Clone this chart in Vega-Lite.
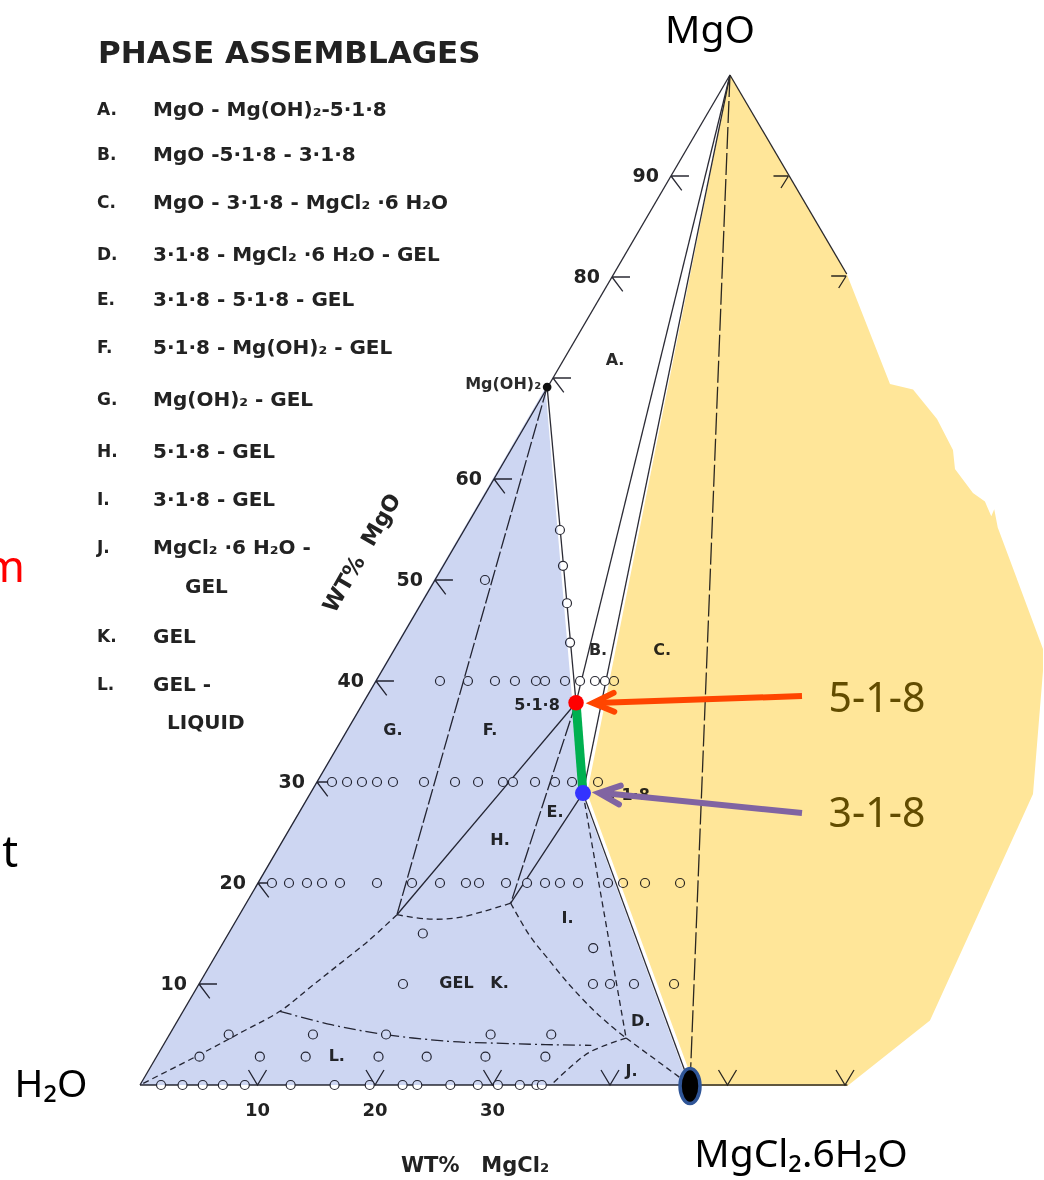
{
  "$schema": "https://vega.github.io/schema/vega-lite/v6.json",
  "width": 1044,
  "height": 1180,
  "padding": 0,
  "autosize": {"type": "none"},
  "background": "white",
  "config": {"view": {"stroke": null}},
  "datasets": {
    "solid": [
      {"line": "left edge", "i": 0, "h": 0, "mgo": 0},
      {"line": "left edge", "i": 1, "h": 50.21, "mgo": 100},
      {"line": "right edge", "i": 0, "h": 50.21, "mgo": 100},
      {"line": "right edge", "i": 1, "h": 60.15, "mgo": 80.3},
      {"line": "base", "i": 0, "h": 0, "mgo": 0},
      {"line": "base", "i": 1, "h": 60.2, "mgo": 0},
      {"line": "MgO-518", "i": 0, "h": 50.21, "mgo": 100},
      {"line": "MgO-518", "i": 1, "h": 37.11, "mgo": 37.85},
      {"line": "MgO-318", "i": 0, "h": 50.21, "mgo": 100},
      {"line": "MgO-318", "i": 1, "h": 37.7, "mgo": 28.9},
      {"line": "brucite-518", "i": 0, "h": 34.65, "mgo": 69.1},
      {"line": "brucite-518", "i": 1, "h": 37.11, "mgo": 37.85},
      {"line": "318-hexahydrate", "i": 0, "h": 37.7, "mgo": 28.9},
      {"line": "318-hexahydrate", "i": 1, "h": 46.81, "mgo": 0},
      {"line": "518-J1", "i": 0, "h": 37.11, "mgo": 37.85},
      {"line": "518-J1", "i": 1, "h": 21.87, "mgo": 16.86},
      {"line": "318-J2", "i": 0, "h": 37.7, "mgo": 28.9},
      {"line": "318-J2", "i": 1, "h": 31.55, "mgo": 18.0}
    ],
    "broken": [
      {"line": "brucite-J1", "i": 0, "h": 34.65, "mgo": 69.1},
      {"line": "brucite-J1", "i": 1, "h": 21.87, "mgo": 16.86},
      {"line": "518-J2", "i": 0, "h": 37.11, "mgo": 37.85},
      {"line": "518-J2", "i": 1, "h": 31.55, "mgo": 18.0}
    ],
    "join": [
      {"line": "MgO-hexahydrate", "i": 0, "h": 50.21, "mgo": 100},
      {"line": "MgO-hexahydrate", "i": 1, "h": 46.81, "mgo": 0}
    ],
    "dashed": [
      {"line": "J1-J2", "i": 0, "h": 21.87, "mgo": 16.86},
      {"line": "J1-J2", "i": 1, "h": 24.38, "mgo": 16.44},
      {"line": "J1-J2", "i": 2, "h": 26.88, "mgo": 16.53},
      {"line": "J1-J2", "i": 3, "h": 29.36, "mgo": 17.23},
      {"line": "J1-J2", "i": 4, "h": 31.55, "mgo": 18.0},
      {"line": "J1-H2O", "i": 0, "h": 21.87, "mgo": 16.86},
      {"line": "J1-H2O", "i": 1, "h": 19.4, "mgo": 14.23},
      {"line": "J1-H2O", "i": 2, "h": 16.9, "mgo": 11.91},
      {"line": "J1-H2O", "i": 3, "h": 14.41, "mgo": 9.6},
      {"line": "J1-H2O", "i": 4, "h": 11.91, "mgo": 7.3},
      {"line": "J1-H2O", "i": 5, "h": 8.79, "mgo": 5.32},
      {"line": "J1-H2O", "i": 6, "h": 5.06, "mgo": 3.0},
      {"line": "J1-H2O", "i": 7, "h": 0, "mgo": 0},
      {"line": "J2-D", "i": 0, "h": 31.55, "mgo": 18.0},
      {"line": "J2-D", "i": 1, "h": 33.11, "mgo": 14.88},
      {"line": "J2-D", "i": 2, "h": 34.67, "mgo": 12.57},
      {"line": "J2-D", "i": 3, "h": 36.54, "mgo": 9.93},
      {"line": "J2-D", "i": 4, "h": 38.41, "mgo": 7.62},
      {"line": "J2-D", "i": 5, "h": 39.97, "mgo": 5.97},
      {"line": "J2-D", "i": 6, "h": 41.37, "mgo": 4.65},
      {"line": "318-D", "i": 0, "h": 37.7, "mgo": 28.9},
      {"line": "318-D", "i": 1, "h": 41.37, "mgo": 4.65},
      {"line": "D-hexahydrate", "i": 0, "h": 41.37, "mgo": 4.65},
      {"line": "D-hexahydrate", "i": 1, "h": 46.81, "mgo": 0},
      {"line": "D-base", "i": 0, "h": 41.37, "mgo": 4.65},
      {"line": "D-base", "i": 1, "h": 38.41, "mgo": 3.34},
      {"line": "D-base", "i": 2, "h": 36.54, "mgo": 1.68},
      {"line": "D-base", "i": 3, "h": 34.98, "mgo": 0}
    ],
    "dashdot": [
      {"line": "gel-liquid", "i": 0, "h": 11.91, "mgo": 7.3},
      {"line": "gel-liquid", "i": 1, "h": 16.28, "mgo": 5.97},
      {"line": "gel-liquid", "i": 2, "h": 20.95, "mgo": 4.98},
      {"line": "gel-liquid", "i": 3, "h": 26.26, "mgo": 4.32},
      {"line": "gel-liquid", "i": 4, "h": 29.84, "mgo": 4.16},
      {"line": "gel-liquid", "i": 5, "h": 34.5, "mgo": 4.0},
      {"line": "gel-liquid", "i": 6, "h": 38.41, "mgo": 3.93}
    ],
    "samples": [
      {"h": 25.53, "mgo": 40}, {"h": 27.91, "mgo": 40}, {"h": 30.21, "mgo": 40}, {"h": 31.91, "mgo": 40},
      {"h": 33.7, "mgo": 40}, {"h": 34.47, "mgo": 40}, {"h": 36.17, "mgo": 40}, {"h": 37.45, "mgo": 40},
      {"h": 38.72, "mgo": 40}, {"h": 39.57, "mgo": 40}, {"h": 40.34, "mgo": 40},
      {"h": 16.34, "mgo": 30}, {"h": 17.62, "mgo": 30}, {"h": 18.89, "mgo": 30}, {"h": 20.17, "mgo": 30},
      {"h": 21.53, "mgo": 30}, {"h": 24.17, "mgo": 30}, {"h": 26.81, "mgo": 30}, {"h": 28.77, "mgo": 30},
      {"h": 30.89, "mgo": 30}, {"h": 31.74, "mgo": 30}, {"h": 33.62, "mgo": 30}, {"h": 35.32, "mgo": 30},
      {"h": 36.77, "mgo": 30}, {"h": 38.98, "mgo": 30},
      {"h": 11.23, "mgo": 20}, {"h": 12.68, "mgo": 20}, {"h": 14.21, "mgo": 20}, {"h": 15.49, "mgo": 20},
      {"h": 17.02, "mgo": 20}, {"h": 20.17, "mgo": 20}, {"h": 23.15, "mgo": 20}, {"h": 25.53, "mgo": 20},
      {"h": 27.74, "mgo": 20}, {"h": 28.85, "mgo": 20}, {"h": 31.15, "mgo": 20}, {"h": 32.94, "mgo": 20},
      {"h": 34.47, "mgo": 20}, {"h": 35.74, "mgo": 20}, {"h": 37.28, "mgo": 20}, {"h": 39.83, "mgo": 20},
      {"h": 41.11, "mgo": 20}, {"h": 42.98, "mgo": 20}, {"h": 45.96, "mgo": 20},
      {"h": 22.38, "mgo": 10}, {"h": 38.55, "mgo": 10}, {"h": 40.0, "mgo": 10}, {"h": 42.04, "mgo": 10},
      {"h": 45.45, "mgo": 10},
      {"h": 24.07, "mgo": 15.0}, {"h": 38.57, "mgo": 13.56}, {"h": 29.36, "mgo": 50},
      {"h": 35.74, "mgo": 54.95}, {"h": 36.0, "mgo": 51.4}, {"h": 36.34, "mgo": 47.7}, {"h": 36.6, "mgo": 43.8},
      {"h": 7.55, "mgo": 5}, {"h": 14.72, "mgo": 5}, {"h": 20.94, "mgo": 5}, {"h": 29.84, "mgo": 5}, {"h": 35.0, "mgo": 5},
      {"h": 5.06, "mgo": 2.8}, {"h": 10.2, "mgo": 2.8}, {"h": 14.1, "mgo": 2.8}, {"h": 20.3, "mgo": 2.8},
      {"h": 24.4, "mgo": 2.8}, {"h": 29.4, "mgo": 2.8}, {"h": 34.5, "mgo": 2.8},
      {"h": 1.79, "mgo": 0}, {"h": 3.62, "mgo": 0}, {"h": 5.34, "mgo": 0}, {"h": 7.05, "mgo": 0},
      {"h": 8.92, "mgo": 0}, {"h": 12.82, "mgo": 0}, {"h": 16.56, "mgo": 0}, {"h": 19.55, "mgo": 0},
      {"h": 22.35, "mgo": 0}, {"h": 23.6, "mgo": 0}, {"h": 26.41, "mgo": 0}, {"h": 28.75, "mgo": 0},
      {"h": 30.46, "mgo": 0}, {"h": 32.33, "mgo": 0}, {"h": 33.74, "mgo": 0}, {"h": 34.2, "mgo": 0}
    ],
    "ticksLeft": [
      {"h": 5.02, "mgo": 10}, {"h": 10.04, "mgo": 20}, {"h": 15.06, "mgo": 30}, {"h": 20.08, "mgo": 40},
      {"h": 25.1, "mgo": 50}, {"h": 30.13, "mgo": 60}, {"h": 35.15, "mgo": 70}, {"h": 40.17, "mgo": 80},
      {"h": 45.19, "mgo": 90}
    ],
    "ticksBottom": [
      {"h": 10, "mgo": 0}, {"h": 20, "mgo": 0}, {"h": 30, "mgo": 0}, {"h": 40, "mgo": 0},
      {"h": 50, "mgo": 0}, {"h": 60, "mgo": 0}
    ],
    "ticksRight": [
      {"h": 55.19, "mgo": 90}, {"h": 60.1, "mgo": 80.1}
    ],
    "scaleLeft": [
      {"label": "90", "h": 45.19, "mgo": 90}, {"label": "80", "h": 40.17, "mgo": 80},
      {"label": "60", "h": 30.13, "mgo": 60}, {"label": "50", "h": 25.1, "mgo": 50},
      {"label": "40", "h": 20.08, "mgo": 40}, {"label": "30", "h": 15.06, "mgo": 30},
      {"label": "20", "h": 10.04, "mgo": 20}, {"label": "10", "h": 5.02, "mgo": 10}
    ],
    "scaleBottom": [
      {"label": "10", "h": 10, "mgo": -2.57}, {"label": "20", "h": 20, "mgo": -2.57},
      {"label": "30", "h": 30, "mgo": -2.57}
    ],
    "regions": [
      {"label": "A.", "h": 40.43, "mgo": 71.78},
      {"label": "B.", "h": 38.98, "mgo": 43.1},
      {"label": "C.", "h": 44.43, "mgo": 43.1},
      {"label": "F.", "h": 29.79, "mgo": 35.15},
      {"label": "G.", "h": 21.53, "mgo": 35.15},
      {"label": "E.", "h": 35.32, "mgo": 27.03},
      {"label": "H.", "h": 30.64, "mgo": 24.26},
      {"label": "I.", "h": 36.38, "mgo": 16.53},
      {"label": "GEL\u00a0\u00a0\u00a0K.", "h": 28.43, "mgo": 10.1},
      {"label": "D.", "h": 42.62, "mgo": 6.3},
      {"label": "J.", "h": 41.84, "mgo": 1.36},
      {"label": "L.", "h": 16.75, "mgo": 2.87},
      {"label": "5·1·8", "h": 33.79, "mgo": 37.62},
      {"label": "3·1·8", "h": 41.45, "mgo": 28.7}
    ],
    "brucite": [
      {"label": "Mg(OH)₂", "h": 34.65, "mgo": 69.1}
    ],
    "legendKeys": [
      {"label": "A.", "h": -3.66, "mgo": 96.53}, {"label": "B.", "h": -3.66, "mgo": 92.08},
      {"label": "C.", "h": -3.66, "mgo": 87.33}, {"label": "D.", "h": -3.66, "mgo": 82.18},
      {"label": "E.", "h": -3.66, "mgo": 77.72}, {"label": "F.", "h": -3.66, "mgo": 72.97},
      {"label": "G.", "h": -3.66, "mgo": 67.82}, {"label": "H.", "h": -3.66, "mgo": 62.67},
      {"label": "I.", "h": -3.66, "mgo": 57.92}, {"label": "J.", "h": -3.66, "mgo": 53.17},
      {"label": "K.", "h": -3.66, "mgo": 44.36}, {"label": "L.", "h": -3.66, "mgo": 39.6}
    ],
    "legendText": [
      {"label": "MgO - Mg(OH)₂-5·1·8", "h": 1.11, "mgo": 96.53},
      {"label": "MgO -5·1·8 - 3·1·8", "h": 1.11, "mgo": 92.08},
      {"label": "MgO - 3·1·8 - MgCl₂ ·6 H₂O", "h": 1.11, "mgo": 87.33},
      {"label": "3·1·8 - MgCl₂ ·6 H₂O - GEL", "h": 1.11, "mgo": 82.18},
      {"label": "3·1·8 - 5·1·8 - GEL", "h": 1.11, "mgo": 77.72},
      {"label": "5·1·8 - Mg(OH)₂ - GEL", "h": 1.11, "mgo": 72.97},
      {"label": "Mg(OH)₂ - GEL", "h": 1.11, "mgo": 67.82},
      {"label": "5·1·8 - GEL", "h": 1.11, "mgo": 62.67},
      {"label": "3·1·8 - GEL", "h": 1.11, "mgo": 57.92},
      {"label": "MgCl₂ ·6 H₂O -", "h": 1.11, "mgo": 53.17},
      {"label": "GEL", "h": 3.83, "mgo": 49.31},
      {"label": "GEL", "h": 1.11, "mgo": 44.36},
      {"label": "GEL -", "h": 1.11, "mgo": 39.6},
      {"label": "LIQUID", "h": 2.3, "mgo": 35.84}
    ],
    "heading": [
      {"label": "PHASE ASSEMBLAGES", "h": -3.57, "mgo": 102.08}
    ],
    "titleBottom": [
      {"label": "WT%\u00a0\u00a0\u00a0MgCl₂", "h": 28.51, "mgo": -8.0}
    ],
    "titleLeft": [
      {"label": "WT%\u00a0\u00a0MgO", "h": 18.89, "mgo": 52.67}
    ],
    "blueField": [
      {"i": 0, "h": 0, "mgo": 0},
      {"i": 1, "h": 34.5, "mgo": 69.0},
      {"i": 2, "h": 36.8, "mgo": 37.85},
      {"i": 3, "h": 37.6, "mgo": 28.9},
      {"i": 4, "h": 46.7, "mgo": 0}
    ],
    "yellowField": [
      {"i": 0, "h": 50.21, "mgo": 100},
      {"i": 1, "h": 60.15, "mgo": 80.3},
      {"i": 2, "h": 63.83, "mgo": 69.41},
      {"i": 3, "h": 65.79, "mgo": 68.86},
      {"i": 4, "h": 67.83, "mgo": 65.94},
      {"i": 5, "h": 69.19, "mgo": 62.87},
      {"i": 6, "h": 69.36, "mgo": 60.99},
      {"i": 7, "h": 70.89, "mgo": 58.61},
      {"i": 8, "h": 71.91, "mgo": 57.77},
      {"i": 9, "h": 72.45, "mgo": 56.3},
      {"i": 10, "h": 72.7, "mgo": 57.0},
      {"i": 11, "h": 73.0, "mgo": 55.2},
      {"i": 12, "h": 76.85, "mgo": 43.17},
      {"i": 13, "h": 76.85, "mgo": 40.99},
      {"i": 14, "h": 76.0, "mgo": 28.81},
      {"i": 15, "h": 67.23, "mgo": 6.38},
      {"i": 16, "h": 60.2, "mgo": -0.1},
      {"i": 17, "h": 47.2, "mgo": -0.1},
      {"i": 18, "h": 38.05, "mgo": 28.9}
    ],
    "tie": [
      {"i": 0, "h": 37.11, "mgo": 37.85},
      {"i": 1, "h": 37.7, "mgo": 28.9}
    ],
    "phase518": [{"h": 37.11, "mgo": 37.85}],
    "phase318": [{"h": 37.7, "mgo": 28.9}],
    "hexahydrate": [{"h": 46.81, "mgo": -0.1}],
    "shaft518": [
      {"i": 0, "h": 38.81, "mgo": 37.82},
      {"i": 1, "h": 56.34, "mgo": 38.51}
    ],
    "shaft318": [
      {"i": 0, "h": 39.4, "mgo": 28.91},
      {"i": 1, "h": 56.34, "mgo": 26.93}
    ],
    "head518": [{"h": 38.55, "mgo": 37.82}],
    "head318": [{"h": 39.06, "mgo": 28.91}],
    "callouts": [
      {"label": "5-1-8", "h": 62.72, "mgo": 38.12},
      {"label": "3-1-8", "h": 62.72, "mgo": 26.73}
    ],
    "corners": [
      {"label": "MgO", "h": 48.51, "mgo": 104.4},
      {"label": "H₂O", "h": -7.57, "mgo": 0},
      {"label": "MgCl₂.6H₂O", "h": 56.26, "mgo": -6.93}
    ],
    "fragmentRed": [{"label": "m", "h": -9.79, "mgo": 49.8}],
    "fragmentBlack": [{"label": "t", "h": -10.38, "mgo": 21.58}]
  },
  "encoding": {
    "x": {"field": "h", "type": "quantitative", "axis": null,
          "scale": {"domain": [-11.915, 76.936], "nice": false, "zero": false}},
    "y": {"field": "mgo", "type": "quantitative", "axis": null,
          "scale": {"domain": [-9.406, 107.426], "nice": false, "zero": false}}
  },
  "layer": [
    {
      "data": {"name": "solid"},
      "mark": {"type": "line", "stroke": "#2b2b35", "strokeWidth": 1.3},
      "encoding": {"detail": {"field": "line"}, "order": {"field": "i"}}
    },
    {
      "data": {"name": "broken"},
      "mark": {"type": "line", "stroke": "#2b2b35", "strokeWidth": 1.3, "strokeDash": [16, 3]},
      "encoding": {"detail": {"field": "line"}, "order": {"field": "i"}}
    },
    {
      "data": {"name": "join"},
      "mark": {"type": "line", "stroke": "#2b2b35", "strokeWidth": 1.3, "strokeDash": [22, 4]},
      "encoding": {"detail": {"field": "line"}, "order": {"field": "i"}}
    },
    {
      "data": {"name": "dashed"},
      "mark": {"type": "line", "interpolate": "cardinal", "stroke": "#2b2b35", "strokeWidth": 1.3, "strokeDash": [6, 4]},
      "encoding": {"detail": {"field": "line"}, "order": {"field": "i"}}
    },
    {
      "data": {"name": "dashdot"},
      "mark": {"type": "line", "interpolate": "cardinal", "stroke": "#2b2b35", "strokeWidth": 1.3, "strokeDash": [12, 4, 2, 4]},
      "encoding": {"detail": {"field": "line"}, "order": {"field": "i"}}
    },
    {
      "data": {"name": "ticksLeft"},
      "mark": {"type": "point", "shape": "M0,0L1,0M0,0L0.6,0.8", "size": 1296, "filled": false,
               "stroke": "#2b2b35", "strokeWidth": 1.3, "opacity": 1}
    },
    {
      "data": {"name": "ticksBottom"},
      "mark": {"type": "point", "shape": "M-0.6,-1L0,0L0.6,-1", "size": 900, "filled": false,
               "stroke": "#2b2b35", "strokeWidth": 1.3, "opacity": 1}
    },
    {
      "data": {"name": "ticksRight"},
      "mark": {"type": "point", "shape": "M0,0L-1,0M0,0L-0.5,0.8", "size": 900, "filled": false,
               "stroke": "#2b2b35", "strokeWidth": 1.3, "opacity": 1}
    },
    {
      "data": {"name": "samples"},
      "mark": {"type": "point", "shape": "circle", "size": 81, "filled": true, "fill": "white",
               "stroke": "#2b2b35", "strokeWidth": 1.2, "opacity": 1}
    },
    {
      "data": {"name": "brucite"},
      "mark": {"type": "point", "shape": "circle", "size": 45, "filled": true, "fill": "#111111",
               "stroke": "#111111", "opacity": 1}
    },
    {
      "data": {"name": "brucite"},
      "mark": {"type": "text", "align": "right", "baseline": "middle", "dx": -6, "dy": -3,
               "font": "DejaVu Sans", "fontSize": 16, "fontWeight": "bold", "color": "#2b2b2b"},
      "encoding": {"text": {"field": "label"}}
    },
    {
      "data": {"name": "scaleLeft"},
      "mark": {"type": "text", "align": "right", "baseline": "middle", "dx": -12,
               "font": "DejaVu Sans", "fontSize": 19, "fontWeight": "bold", "color": "#222222"},
      "encoding": {"text": {"field": "label"}}
    },
    {
      "data": {"name": "scaleBottom"},
      "mark": {"type": "text", "align": "center", "baseline": "middle",
               "font": "DejaVu Sans", "fontSize": 18, "fontWeight": "bold", "color": "#222222"},
      "encoding": {"text": {"field": "label"}}
    },
    {
      "data": {"name": "regions"},
      "mark": {"type": "text", "align": "center", "baseline": "middle",
               "font": "DejaVu Sans", "fontSize": 16, "fontWeight": "bold", "color": "#2a2a2a"},
      "encoding": {"text": {"field": "label"}}
    },
    {
      "data": {"name": "legendKeys"},
      "mark": {"type": "text", "align": "left", "baseline": "middle",
               "font": "DejaVu Sans", "fontSize": 17, "fontWeight": "bold", "color": "#222222"},
      "encoding": {"text": {"field": "label"}}
    },
    {
      "data": {"name": "legendText"},
      "mark": {"type": "text", "align": "left", "baseline": "middle",
               "font": "DejaVu Sans", "fontSize": 20, "fontWeight": "bold", "color": "#222222"},
      "encoding": {"text": {"field": "label"}}
    },
    {
      "data": {"name": "heading"},
      "mark": {"type": "text", "align": "left", "baseline": "middle",
               "font": "DejaVu Sans", "fontSize": 31, "fontWeight": "bold", "color": "#222222"},
      "encoding": {"text": {"field": "label"}}
    },
    {
      "data": {"name": "titleBottom"},
      "mark": {"type": "text", "align": "center", "baseline": "middle",
               "font": "DejaVu Sans", "fontSize": 21, "fontWeight": "bold", "color": "#222222"},
      "encoding": {"text": {"field": "label"}}
    },
    {
      "data": {"name": "titleLeft"},
      "mark": {"type": "text", "align": "center", "baseline": "middle", "angle": 300,
               "font": "DejaVu Sans", "fontSize": 22, "fontWeight": "bold", "color": "#222222"},
      "encoding": {"text": {"field": "label"}}
    },
    {
      "data": {"name": "blueField"},
      "mark": {"type": "line", "interpolate": "linear-closed", "fill": "#CDD6F2",
               "stroke": "#CDD6F2", "strokeWidth": 0, "blend": "multiply"},
      "encoding": {"order": {"field": "i"}}
    },
    {
      "data": {"name": "yellowField"},
      "mark": {"type": "line", "interpolate": "linear-closed", "fill": "#FFE699",
               "stroke": "#FFE699", "strokeWidth": 0, "blend": "multiply"},
      "encoding": {"order": {"field": "i"}}
    },
    {
      "data": {"name": "tie"},
      "mark": {"type": "line", "stroke": "#00B050", "strokeWidth": 9},
      "encoding": {"order": {"field": "i"}}
    },
    {
      "data": {"name": "phase518"},
      "mark": {"type": "point", "shape": "circle", "size": 240, "filled": true, "fill": "#FF0000",
               "strokeWidth": 0, "opacity": 1}
    },
    {
      "data": {"name": "phase318"},
      "mark": {"type": "point", "shape": "circle", "size": 256, "filled": true, "fill": "#3333FF",
               "strokeWidth": 0, "opacity": 1}
    },
    {
      "data": {"name": "hexahydrate"},
      "mark": {"type": "point", "shape": "M0,-1A0.57,1 0 1,1 0,1A0.57,1 0 1,1 0,-1Z", "size": 1225,
               "filled": true, "fill": "#000000", "stroke": "#2F5597", "strokeWidth": 3.5, "opacity": 1}
    },
    {
      "data": {"name": "shaft518"},
      "mark": {"type": "line", "stroke": "#FF4500", "strokeWidth": 6},
      "encoding": {"order": {"field": "i"}}
    },
    {
      "data": {"name": "head518"},
      "mark": {"type": "point", "shape": "M1,-0.45L0,0L1,0.45", "size": 1764, "filled": false,
               "stroke": "#FF4500", "strokeWidth": 6, "strokeCap": "round", "angle": 358, "opacity": 1}
    },
    {
      "data": {"name": "shaft318"},
      "mark": {"type": "line", "stroke": "#8064A2", "strokeWidth": 6},
      "encoding": {"order": {"field": "i"}}
    },
    {
      "data": {"name": "head318"},
      "mark": {"type": "point", "shape": "M1,-0.45L0,0L1,0.45", "size": 1764, "filled": false,
               "stroke": "#8064A2", "strokeWidth": 6, "strokeCap": "round", "angle": 5.6, "opacity": 1}
    },
    {
      "data": {"name": "callouts"},
      "mark": {"type": "text", "align": "center", "baseline": "middle",
               "font": "Noto Sans", "fontSize": 41, "color": "#624C00"},
      "encoding": {"text": {"field": "label"}}
    },
    {
      "data": {"name": "corners"},
      "mark": {"type": "text", "align": "center", "baseline": "middle",
               "font": "Noto Sans", "fontSize": 39, "color": "#000000"},
      "encoding": {"text": {"field": "label"}}
    },
    {
      "data": {"name": "fragmentRed"},
      "mark": {"type": "text", "align": "right", "baseline": "alphabetic",
               "font": "Noto Sans", "fontSize": 44, "color": "#FF0000"},
      "encoding": {"text": {"field": "label"}}
    },
    {
      "data": {"name": "fragmentBlack"},
      "mark": {"type": "text", "align": "right", "baseline": "alphabetic",
               "font": "Noto Sans", "fontSize": 44, "color": "#000000"},
      "encoding": {"text": {"field": "label"}}
    }
  ]
}
